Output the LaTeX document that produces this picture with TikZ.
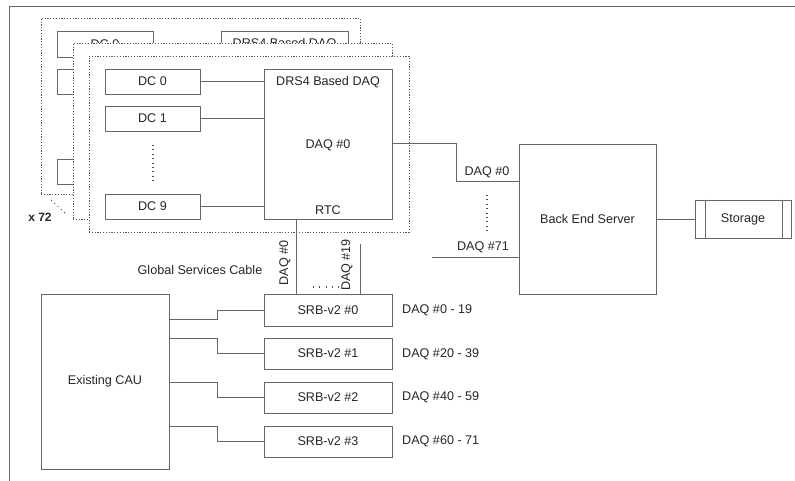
\documentclass[tikz,border=0pt]{standalone}
\usepackage{fontspec}
\setmainfont{Liberation Sans}
\usetikzlibrary{calc}
\begin{document}
\begin{tikzpicture}[x=1pt,y=-1pt,
  every node/.style={font=\fontsize{12.6}{15}\selectfont, text=black!85},
  ln/.style={draw=black!60, line width=0.9pt},
  box/.style={ln, rectangle, inner sep=0pt, outer sep=0pt, fill=white},
  frm/.style={draw=black!65, line width=0.9pt, dash pattern=on 1.2pt off 1.6pt, fill=white, rectangle, inner sep=0pt, outer sep=0pt},
  dotl/.style={draw=black!70, line width=1.1pt, dash pattern=on 1.1pt off 3.3pt},
  wdotl/.style={draw=black!70, line width=1.1pt, dash pattern=on 1.1pt off 5.2pt},
  lbl/.style={inner sep=0pt}]
\useasboundingbox (0,0) rectangle (795,481);
% outer border
\coordinate (btr) at (795,6);
\coordinate (bbl) at (9.5,481);
\draw[ln] (btr) -- (btr -| bbl) -- (bbl);
% back frame
\node[frm, minimum width=319pt, minimum height=176pt] (f1) at (200.5,106) {};
\node[box, minimum width=96pt, minimum height=26pt] (bdc0) at (105,44) {DC 0};
\node[box, minimum width=96pt, minimum height=25pt] (bdc1) at (105,81.5) {};
\node[box, minimum width=96pt, minimum height=25pt] (bdc9) at (105,171.5) {};
\node[box, minimum width=127pt, minimum height=150pt] (bdrs) at (284.5,106) {};
\node[lbl] (bdrst) at (284.5,44) {DRS4 Based DAQ};
% middle frame
\node[frm, minimum width=319pt, minimum height=176pt] (f2) at (232.5,131) {};
% front frame
\node[frm, minimum width=320pt, minimum height=176pt] (f3) at (249,144) {};
\node[box, minimum width=95pt, minimum height=25pt] (dc0) at (152.5,81.5) {DC 0};
\node[box, minimum width=95pt, minimum height=25pt] (dc1) at (152.5,118.5) {DC 1};
\node[box, minimum width=95pt, minimum height=25pt] (dc9) at (152.5,206.5) {DC 9};
\node[box, minimum width=128pt, minimum height=150pt] (drs) at (328,144) {};
\node[lbl] (drst) at (328,82) {DRS4 Based DAQ};
\node[lbl] (daq0t) at (328,145) {DAQ \#0};
\node[lbl] (rtc) at (328,210) {RTC};
\coordinate (dca) at (153,145);
\coordinate (dcb) at (153,181);
\draw[dotl] (dca) -- (dcb);
\draw[ln] (dc0.east) -- (dc0.east -| drs.west);
\draw[ln] (dc1.east) -- (dc1.east -| drs.west);
\draw[ln] (dc9.east) -- (dc9.east -| drs.west);
% x 72
\node[lbl, font=\bfseries\fontsize{12}{14}\selectfont] (x72) at (40,217) {x 72};
\coordinate (xa) at (51,200);
\coordinate (xb) at (65,213);
\draw[draw=black!70, line width=1pt, dash pattern=on 1pt off 3.5pt] (xa) -- (xb);
% back end server
\node[box, minimum width=137pt, minimum height=150pt] (srv) at (587.5,219) {Back End Server};
\node[box, minimum width=96pt, minimum height=38pt] (st) at (743,219) {Storage};
\draw[ln] ([xshift=10pt]st.north west) -- ([xshift=10pt]st.south west);
\draw[ln] ([xshift=-9pt]st.north east) -- ([xshift=-9pt]st.south east);
\draw[ln] (srv.east) -- (st.west);
\coordinate (k1) at (456,143);
\draw[ln] (k1 -| drs.east) -- (k1) |- ($(srv.north west)+(0,37)$);
\node[lbl] (l0) at (487,172) {DAQ \#0};
\coordinate (sda) at (487,195);
\coordinate (sdb) at (487,231);
\draw[dotl] (sda) -- (sdb);
\node[lbl] (l71) at (483,247) {DAQ \#71};
\coordinate (d71) at (432,257);
\draw[ln] (d71) -- (d71 -| srv.west);
% CAU and SRBs
\node[box, minimum width=128pt, minimum height=175pt] (cau) at (105,381.5) {Existing CAU};
\node[box, minimum width=128pt, minimum height=32pt] (srb0) at (328,310) {SRB-v2 \#0};
\node[box, minimum width=128pt, minimum height=31pt] (srb1) at (328,353.5) {SRB-v2 \#1};
\node[box, minimum width=128pt, minimum height=31pt] (srb2) at (328,397.5) {SRB-v2 \#2};
\node[box, minimum width=128pt, minimum height=31pt] (srb3) at (328,441.5) {SRB-v2 \#3};
\node[lbl, anchor=west] (r0) at (402,310) {DAQ \#0 - 19};
\node[lbl, anchor=west] (r1) at (402,354) {DAQ \#20 - 39};
\node[lbl, anchor=west] (r2) at (402,397) {DAQ \#40 - 59};
\node[lbl, anchor=west] (r3) at (402,441) {DAQ \#60 - 71};
\draw[ln] ($(cau.north east)+(0,25)$) -- ++(48,0) |- (srb0.west);
\draw[ln] ($(cau.north east)+(0,44)$) -- ++(48,0) |- (srb1.west);
\draw[ln] ($(cau.north east)+(0,88)$) -- ++(48,0) |- (srb2.west);
\draw[ln] ($(cau.north east)+(0,132)$) -- ++(48,0) |- (srb3.west);
% global services cable
\draw[ln] ([xshift=-32pt]drs.south) -- ([xshift=-32pt]srb0.north);
\coordinate (g19) at (360,244);
\draw[ln] (g19) -- (g19 |- srb0.north);
\node[lbl, rotate=90] (gd0) at (285,263) {DAQ \#0};
\node[lbl, rotate=90] (gd19) at (347,265) {DAQ \#19};
\coordinate (gda) at (313,287);
\coordinate (gdb) at (340,287);
\draw[wdotl] (gda) -- (gdb);
\node[lbl] (gsc) at (200,270) {Global Services Cable};
\end{tikzpicture}
\end{document}
